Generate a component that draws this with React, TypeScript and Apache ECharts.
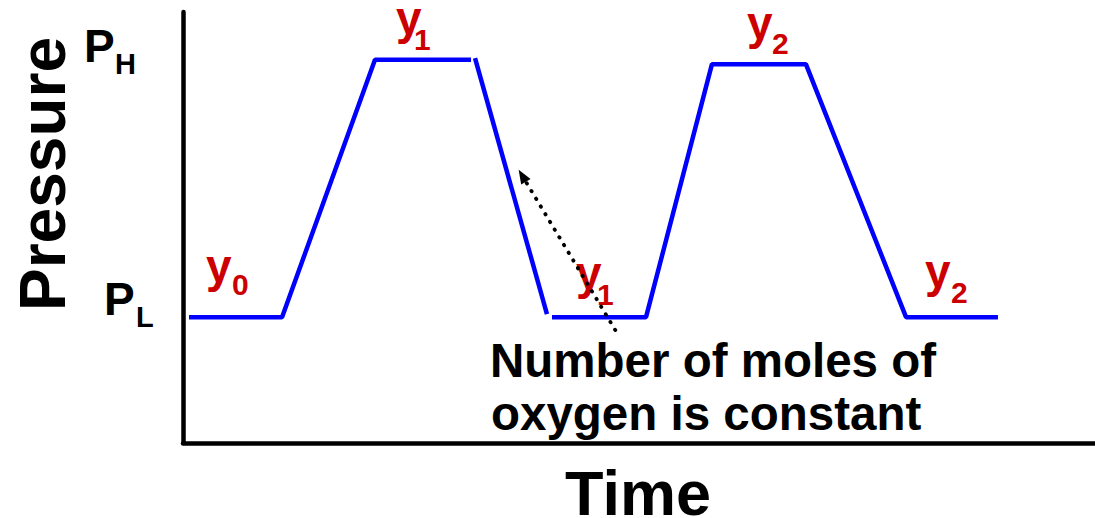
import React, { useEffect, useRef } from "react";
import * as echarts from "echarts";

// Time axis 0..100, pressure axis 0..100 (arbitrary units)
const seg1Time = [0.66, 10.86, 21.05, 31.58];
const seg1Pressure = [29.2, 29.2, 88.9, 88.9];
const seg2Time = [32.02, 39.91];
const seg2Pressure = [89.3, 29.9];
const seg3Time = [40.46, 50.77, 58.0, 68.3, 79.28, 89.36];
const seg3Pressure = [29.2, 29.2, 87.9, 87.9, 29.2, 29.2];

const arrowFrom = [47.4, 26.2];
const arrowTo = [37.2, 62.0];

const axisTitleX = "Time";
const axisTitleY = "Pressure";
const noteLines = ["Number of moles of", "oxygen is constant"];

const FONT = "'Liberation Sans', Arial, Helvetica, sans-serif";
const RED = "#cc0000";
const BLUE = "#0000ff";

function zip(t: number[], p: number[]) {
  return t.map((v, i) => [v, p[i]]);
}

function txt(text: string, x: number, y: number, size: number, color = "#000", extra: any = {}) {
  return {
    type: "text",
    x,
    y,
    silent: true,
    style: {
      text,
      fill: color,
      font: `bold ${size}px ${FONT}`,
      textAlign: "left",
      textVerticalAlign: "middle",
      ...extra,
    },
  };
}

export default function App() {
  const ref = useRef<HTMLDivElement>(null);
  useEffect(() => {
    if (!ref.current) return;
    const chart = echarts.init(ref.current, undefined, { renderer: "svg" });
    const lineStyle = { color: BLUE, width: 4.5 };
    const mkSeries = (data: number[][]) => ({
      type: "line",
      data,
      symbol: "none",
      lineStyle,
      silent: true,
    });
    chart.setOption({
      animation: false,
      grid: { left: 183, right: 0, top: 12, bottom: 75, containLabel: false },
      xAxis: {
        type: "value",
        min: 0,
        max: 100,
        axisLine: { show: true, lineStyle: { color: "#000", width: 4.5 } },
        axisTick: { show: false },
        axisLabel: { show: false },
        splitLine: { show: false },
      },
      yAxis: {
        type: "value",
        min: 0,
        max: 100,
        axisLine: { show: true, lineStyle: { color: "#000", width: 4.5 } },
        axisTick: { show: false },
        axisLabel: { show: false },
        splitLine: { show: false },
      },
      series: [
        mkSeries(zip(seg1Time, seg1Pressure)),
        mkSeries(zip(seg2Time, seg2Pressure)),
        mkSeries(zip(seg3Time, seg3Pressure)),
        {
          type: "line",
          data: [],
          silent: true,
          markLine: {
            silent: true,
            symbol: ["none", "triangle"],
            symbolSize: [11, 14],
            label: { show: false },
            lineStyle: { color: "#000", width: 3.8, type: [0.5, 8.5], cap: "round" },
            data: [[{ coord: arrowFrom }, { coord: arrowTo }]],
          },
        },
      ],
      graphic: [
        {
          type: "text",
          x: 43,
          y: 174,
          rotation: Math.PI / 2,
          silent: true,
          style: {
            text: axisTitleY,
            fill: "#000",
            font: `bold 64px ${FONT}`,
            textAlign: "center",
            textVerticalAlign: "middle",
          },
        },
        txt(axisTitleX, 638, 493, 63, "#000", { textAlign: "center" }),
        txt(noteLines[0], 490, 360, 47.5),
        txt(noteLines[1], 491, 413, 47.5),
        // P_H, P_L
        txt("P", 84, 46, 46),
        txt("H", 115, 64, 29),
        txt("P", 104, 299, 46),
        txt("L", 136, 317, 29),
        // y labels
        txt("y", 206, 266, 46, RED),
        txt("0", 232, 284, 30, RED),
        txt("y", 396, 18, 46, RED),
        txt("1", 414, 39, 30, RED),
        txt("y", 747, 23, 46, RED),
        txt("2", 772, 43, 30, RED),
        txt("y", 576, 273, 46, RED),
        txt("1", 597, 294, 30, RED),
        txt("y", 925, 271, 46, RED),
        txt("2", 951, 292, 30, RED),
      ],
    });
    return () => chart.dispose();
  }, []);
  return (
    <div
      ref={ref}
      style={{ position: "fixed", left: 0, top: 0, width: 1095, height: 518, background: "#fff" }}
    />
  );
}
